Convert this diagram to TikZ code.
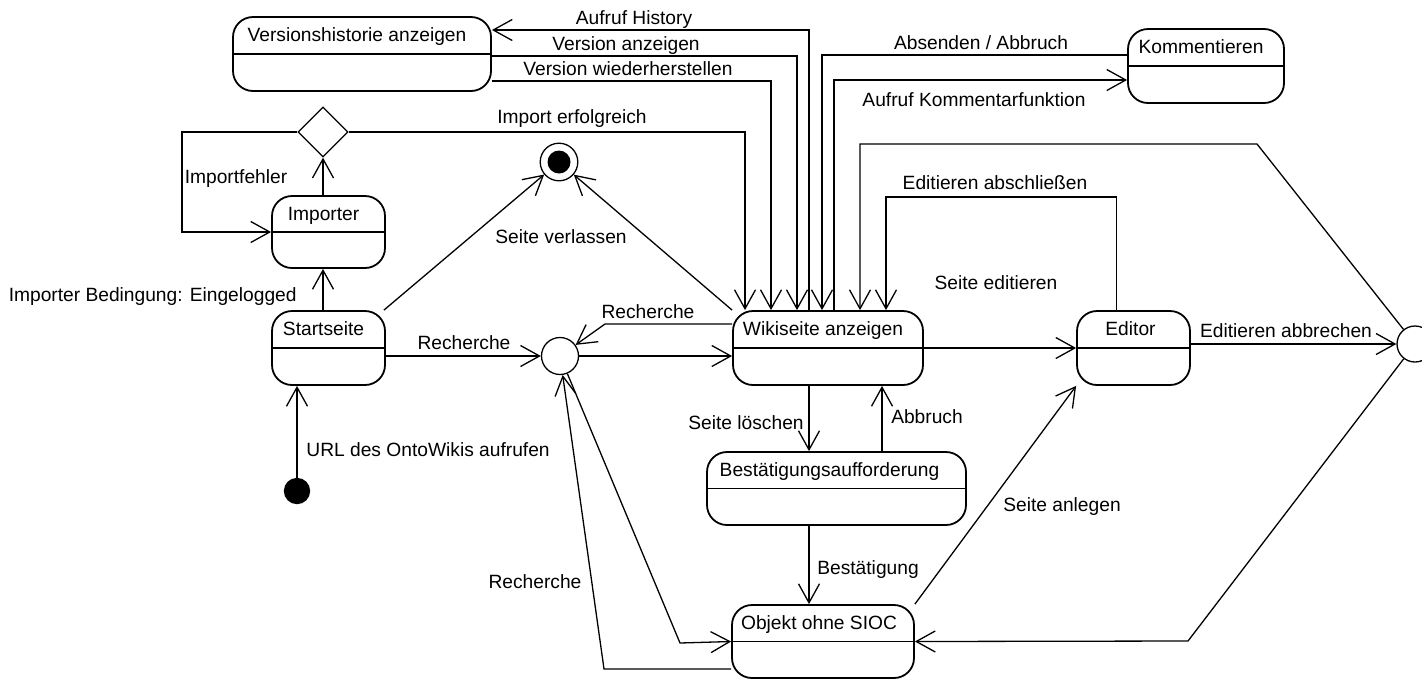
\documentclass[tikz,border=0pt]{standalone}
\usepackage{fontspec}
\setmainfont{Liberation Sans}
\usetikzlibrary{arrows.meta,calc,shapes.geometric}

\tikzset{
    umlstate/.style={draw, rounded corners=10pt, line width=0.9pt, inner sep=0pt,
        minimum height=37pt,
        path picture={\draw[line width=0.65pt] (path picture bounding box.west) -- (path picture bounding box.east);}},
    statename/.style={inner sep=0pt, text height=6.9pt, text depth=0pt},
    lbl/.style={inner sep=0pt, text height=6.9pt, text depth=0pt},
    trans/.style={line width=0.65pt, -{Straight Barb[length=9.5pt,width=10.5pt]}},
    conn/.style={line width=0.65pt},
    pseudo/.style={circle, draw, line width=0.65pt, inner sep=0pt},
}

\begin{document}
\begin{tikzpicture}[x=0.5pt, y=-0.5pt, font=\fontsize{9.6}{11.5}\selectfont]
    \path[use as bounding box, fill=white] (0,0) rectangle (1422,681);
    % states
    \node[umlstate, minimum width=129pt] (historie) at (362,54) {};
    \node[umlstate, minimum width=78pt] (komm) at (1206,66) {};
    \node[umlstate, minimum width=56.5pt, minimum height=36pt] (importer) at (328.5,232) {};
    \node[umlstate, minimum width=56.5pt] (startseite) at (328.5,348) {};
    \node[umlstate, minimum width=95pt] (wiki) at (828,348) {};
    \node[umlstate, minimum width=56.5pt] (editor) at (1133.5,348) {};
    \node[umlstate, minimum width=129.5pt, minimum height=36.5pt] (best) at (836.5,488.5) {};
    \node[umlstate, minimum width=91pt, minimum height=36.5pt] (objekt) at (823,641.5) {};
    \node[statename] (historie-name) at ($(historie.north)+(-5,18)$) {Versionshistorie anzeigen};
    \node[statename] (komm-name) at ($(komm.north)+(-5,18)$) {Kommentieren};
    \node[statename] (importer-name) at ($(importer.north)+(-5,18)$) {Importer};
    \node[statename] (startseite-name) at ($(startseite.north)+(-5,18)$) {Startseite};
    \node[statename] (wiki-name) at ($(wiki.north)+(-5,18)$) {Wikiseite anzeigen};
    \node[statename] (editor-name) at ($(editor.north)+(-3,18)$) {Editor};
    \node[statename] (best-name) at ($(best.north)+(-7,18)$) {Bestätigungsaufforderung};
    \node[statename] (objekt-name) at ($(objekt.north)+(-4,18)$) {Objekt ohne SIOC};
    % pseudo states
    \node[pseudo, fill, minimum size=12.5pt] (start) at (297,491) {};
    \node[pseudo, minimum size=18.8pt] (ende) at (559,162) {};
    \fill (ende.center) circle[radius=5.75pt];
    \node[pseudo, minimum size=18.5pt] (recherche) at (560,356) {};
    \node[pseudo, minimum size=18pt] (abbrechen) at (1415,344) {};
    \node[draw, diamond, line width=0.65pt, minimum width=25pt, minimum height=25pt, inner sep=0pt] (import) at (323,132) {};
    \coordinate (loesch) at ($(wiki.south)+(-19,0)$);
    \coordinate (abbr) at ($(wiki.south)+(54,0)$);
    % start and import
    \draw[trans] (start) -- (start |- startseite.south);
    \draw[trans] (import |- startseite.north) -- (import |- importer.south);
    \draw[trans] (import |- importer.north) -- (import.south);
    \draw[trans] (import.west) -- (182,132) |- (importer.west);
    \draw[trans] (import.east) -| ($(wiki.north)+(-83,0)$);
    % version history
    \draw[trans] ($(wiki.north)+(-19,0)$) |- ($(historie.east)+(0,-24)$);
    \draw[trans] ($(historie.east)+(0,2)$) -| ($(wiki.north)+(-31,0)$);
    \draw[trans] ($(historie.east)+(0,27)$) -| ($(wiki.north)+(-57,0)$);
    % comments
    \draw[trans] ($(komm.west)+(0,-11)$) -| ($(wiki.north)+(-6,0)$);
    \draw[trans] ($(wiki.north)+(6,0)$) |- ($(komm.west)+(0,14)$);
    % editor
    \draw[trans] (wiki.east) -- (editor.west);
    \draw[trans] ($(editor.north)+(-17,0)$) |- (886,197) -- ($(wiki.north)+(58,0)$);
    \draw[trans] (editor.east |- abbrechen) -- (abbrechen);
    \draw[trans] (abbrechen) -- (1257,144) -| ($(wiki.north)+(32,0)$);
    \draw[trans] (abbrechen) -- (1188,641) -- (objekt.east);
    % leaving
    \draw[trans] ($(startseite.north east)+(-2,0)$) -- (ende);
    \draw[trans] (wiki.north west) -- (ende);
    % research
    \draw[trans] (startseite.east |- recherche) -- (recherche);
    \draw[trans] (recherche) -- (recherche -| wiki.west);
    \draw[trans] ($(wiki.west)+(0,-24)$) -- (605,324) -- (recherche);
    \draw[trans] (recherche) -- (680,643) -- (objekt.west);
    \draw[trans] ($(objekt.west)+(0,27.5)$) -- (604,669) -- (recherche);
    % delete and create
    \draw[trans] (loesch) -- (loesch |- best.north);
    \draw[trans] (abbr |- best.north) -- (abbr);
    \draw[trans] (loesch |- best.south) -- (loesch |- objekt.north);
    \draw[trans] (objekt.north east) -- (editor.south west);
    % labels
    \node[lbl] (l-history) at (634,18) {Aufruf History};
    \node[lbl] (l-anzeigen) at (626,44) {Version anzeigen};
    \node[lbl] (l-wiederh) at (628,69) {Version wiederherstellen};
    \node[lbl] (l-absenden) at (981,43) {Absenden / Abbruch};
    \node[lbl] (l-kommfkt) at (974,100) {Aufruf Kommentarfunktion};
    \node[lbl] (l-importok) at (572,117) {Import erfolgreich};
    \node[lbl] (l-importfehler) at (236,177) {Importfehler};
    \node[lbl] (l-verlassen) at (561,237) {Seite verlassen};
    \node[lbl] (l-abschliessen) at (995,183) {Editieren abschließen};
    \node[lbl, anchor=east] (l-bedingung) at (297,295) {Importer Bedingung: Eingelogged};
    \node[lbl] (l-recherche1) at (648,312) {Recherche};
    \node[lbl] (l-recherche2) at (464,343) {Recherche};
    \node[lbl] (l-editieren) at (996,283) {Seite editieren};
    \node[lbl] (l-abbrechen) at (1286,331) {Editieren abbrechen};
    \node[lbl] (l-loeschen) at (746,423) {Seite löschen};
    \node[lbl] (l-abbruch) at (927,417) {Abbruch};
    \node[lbl, anchor=west] (l-url) at (306,450) {URL des OntoWikis aufrufen};
    \node[lbl] (l-bestaetigung) at (868,568) {Bestätigung};
    \node[lbl] (l-anlegen) at (1062,505) {Seite anlegen};
    \node[lbl] (l-recherche3) at (535,582) {Recherche};
\end{tikzpicture}
\end{document}
